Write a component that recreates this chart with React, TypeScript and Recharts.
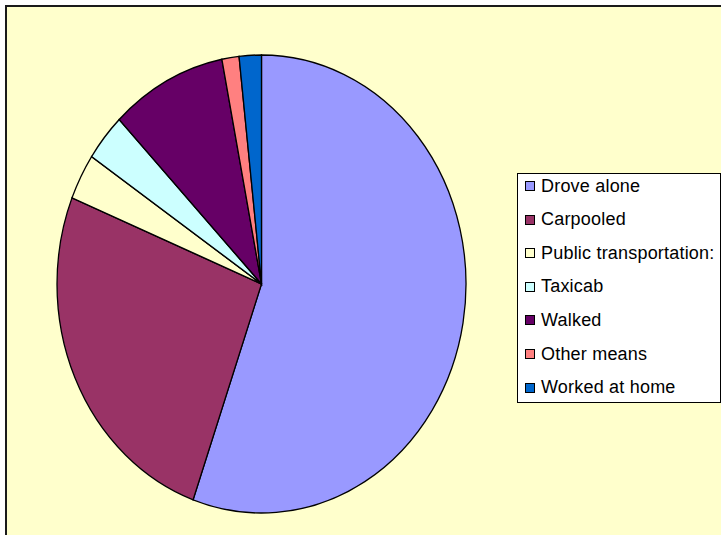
import React from 'react';
import { PieChart, Pie, Cell, Legend } from 'recharts';

const categories = [
  'Drove alone',
  'Carpooled',
  'Public transportation:',
  'Taxicab',
  'Walked',
  'Other means',
  'Worked at home',
];
const shares = [55.4, 25.7, 3.25, 3.35, 9.15, 1.35, 1.75];
const colors = ['#9999FF', '#993366', '#FFFFCC', '#CCFFFF', '#660066', '#FF8080', '#0066CC'];

const data = categories.map((name, i) => ({ name, value: shares[i] }));

const CX = 261.5;
const CY = 284;
const R = 204.5;
const SY = 229 / 204.5;

const LegendBox = () => (
  <div
    style={{
      position: 'relative',
      width: 204,
      height: 230,
      boxSizing: 'border-box',
      border: '1px solid #000',
      background: '#FFFFFF',
      fontFamily: '"Liberation Sans", Arial, sans-serif',
      fontSize: 18,
      letterSpacing: 0.2,
      color: '#000',
    }}
  >
    {categories.map((c, i) => (
      <div
        key={c}
        style={{
          position: 'absolute',
          left: 7,
          top: 12 + i * 33.6 - 10,
          height: 20,
          display: 'flex',
          alignItems: 'center',
          whiteSpace: 'nowrap',
        }}
      >
        <span
          style={{
            display: 'inline-block',
            width: 10,
            height: 10,
            boxSizing: 'border-box',
            border: '1px solid #000',
            background: colors[i],
            marginRight: 6,
          }}
        />
        <span>{c}</span>
      </div>
    ))}
  </div>
);

export default function App() {
  return (
    <div
      style={{
        position: 'fixed',
        left: 0,
        top: 0,
        width: 721,
        height: 535,
        overflow: 'hidden',
        background: '#FFFFFF',
      }}
    >
      <style>{`.recharts-pie{transform:scaleY(${SY});transform-origin:${CX}px ${CY}px;}`}</style>
      <div
        style={{
          position: 'absolute',
          left: 5,
          top: 5,
          width: 740,
          height: 560,
          boxSizing: 'border-box',
          borderLeft: '2px solid #1a1a1a',
          borderTop: '2px solid #1a1a1a',
          background: '#FFFFCC',
        }}
      />
      <div style={{ position: 'absolute', left: 0, top: 0 }}>
        <PieChart width={721} height={535} margin={{ top: 0, right: 0, bottom: 0, left: 0 }}>
          <Pie
            data={data}
            dataKey="value"
            nameKey="name"
            cx={CX}
            cy={CY}
            outerRadius={R}
            innerRadius={0}
            startAngle={90}
            endAngle={-270}
            stroke="#000000"
            strokeWidth={1.3}
            isAnimationActive={false}
            label={false}
            labelLine={false}
          >
            {data.map((d, i) => (
              <Cell key={d.name} fill={colors[i]} stroke="#000000" />
            ))}
          </Pie>
          <Legend
            layout="vertical"
            align="right"
            verticalAlign="middle"
            content={() => <LegendBox />}
            wrapperStyle={{ position: 'absolute', left: 517, top: 173, width: 204, height: 230 }}
          />
        </PieChart>
      </div>
    </div>
  );
}
